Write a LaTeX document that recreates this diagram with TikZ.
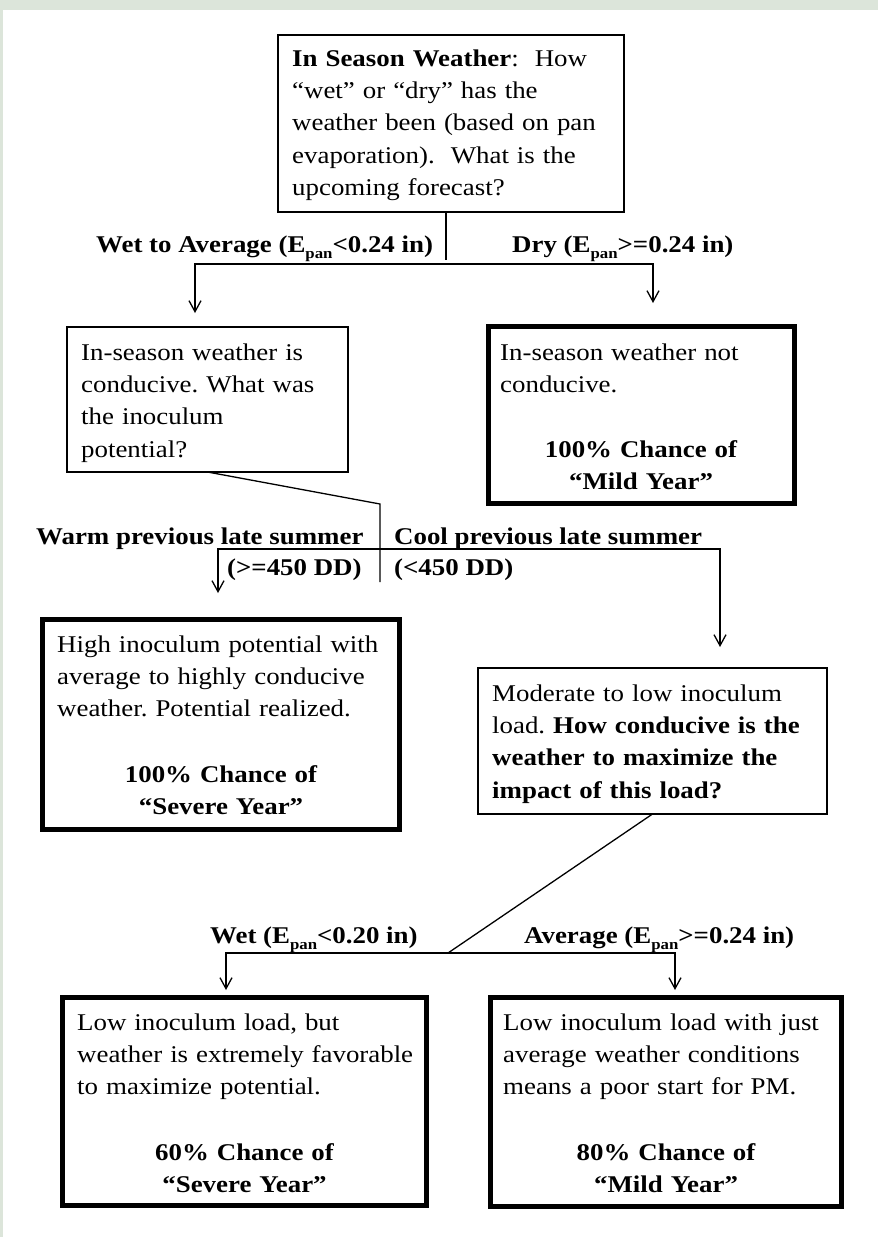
\documentclass[tikz,border=0pt]{standalone}
\usepackage{fontspec}
\setmainfont{Liberation Serif}[FakeStretch=1.12]
\usetikzlibrary{arrows.meta,fit}
\definecolor{bandcol}{HTML}{DCE5DA}
\newcommand{\pan}{\raisebox{-6pt}{\fontsize{15}{15}\selectfont pan}}
\frenchspacing
\begin{document}
\begin{tikzpicture}[x=1pt,y=-1pt,
  thinbox/.style={draw,line width=1.3pt,inner sep=0pt,outer sep=0pt},
  thickbox/.style={draw,line width=5pt,inner sep=0pt,outer sep=0pt},
  txt/.style={anchor=base west,inner sep=0pt,text width=420pt,align=left,font=\fontsize{24}{32.4}\selectfont\frenchspacing},
  ctxt/.style={anchor=base,inner sep=0pt,text width=340pt,align=center,font=\fontsize{24}{32.4}\selectfont\bfseries},
  lbl/.style={anchor=base west,inner sep=0pt,font=\fontsize{24}{28}\selectfont\bfseries},
  conn/.style={line width=1.3pt},
  arr/.style={line width=1.3pt,-{Straight Barb[length=11pt,width=12pt,line width=1.3pt]}}]
\useasboundingbox (0,0) rectangle (878,1237);
\fill[white] (0,0) rectangle (878,1237);
\fill[bandcol] (0,0) rectangle (878,10);
\fill[bandcol] (0,0) rectangle (3,1237);

% boxes
\node[thinbox,fit={(278,35) (624,212)}] (T) {};
\node[thinbox,fit={(67,327) (348,472)}] (A) {};
\node[thickbox,fit={(488.5,326.5) (794.5,503.5)}] (B) {};
\node[thickbox,fit={(42.5,619.5) (399.5,829.5)}] (C) {};
\node[thinbox,fit={(478,668) (827,814)}] (D) {};
\node[thickbox,fit={(62.5,997.5) (426.5,1205.5)}] (E) {};
\node[thickbox,fit={(490.5,997.5) (841.5,1206.5)}] (F) {};

% box texts
\node[txt] (Tt) at (292,66) {\textbf{In Season Weather}:\ \ How\\“wet” or “dry” has the\\weather been (based on pan\\evaporation).\ \ What is the\\upcoming forecast?};
\node[txt] (At) at (81,360) {In-season weather is\\conducive. What was\\the inoculum\\potential?};
\node[txt] (Bt) at (500,360) {In-season weather not\\conducive.};
\node[ctxt] (Bc) at (641,457) {100\% Chance of\\“Mild Year”};
\node[txt] (Ct) at (57,652) {High inoculum potential with\\average to highly conducive\\weather. Potential realized.};
\node[ctxt] (Cc) at (221,782) {100\% Chance of\\“Severe Year”};
\node[txt] (Dt) at (492,701) {Moderate to low inoculum\\load. \textbf{How conducive is the}\\\textbf{weather to maximize the}\\\textbf{impact of this load?}};
\node[txt] (Et) at (77,1030) {Low inoculum load, but\\weather is extremely favorable\\to maximize potential.};
\node[ctxt] (Ec) at (244.5,1160) {60\% Chance of\\“Severe Year”};
\node[txt] (Ft) at (503,1030) {Low inoculum load with just\\average weather conditions\\means a poor start for PM.};
\node[ctxt] (Fc) at (666,1160) {80\% Chance of\\“Mild Year”};

% branch labels
\node[lbl] (L1) at (96,252) {Wet to Average (E\pan<0.24 in)};
\node[lbl] (L2) at (512,252) {Dry (E\pan>=0.24 in)};
\node[lbl] (L3) at (36,544) {Warm previous late summer};
\node[lbl] (L4) at (394,544) {Cool previous late summer};
\node[lbl] (L5) at (227,575) {(>=450 DD)};
\node[lbl] (L6) at (394,575) {(<450 DD)};
\node[lbl] (L7) at (210,943) {Wet (E\pan<0.20 in)};
\node[lbl] (L8) at (524,943) {Average (E\pan>=0.24 in)};

% junction coordinates
\coordinate (j1) at (446,260);
\coordinate (h1a) at (195,264);
\coordinate (h1b) at (653,264);
\coordinate (k1) at (380,504);
\coordinate (k1e) at (380,582);
\coordinate (h2a) at (218,549);
\coordinate (h2b) at (720,549);
\coordinate (k2) at (448,953);
\coordinate (h3a) at (226,953);
\coordinate (h3b) at (675,953);

% connectors
\draw[conn] (T.south -| j1) -- (j1);
\draw[arr] (h1b) -- (h1a) -- ([yshift=14pt]h1a |- A.north);
\draw[arr] (h1a) -- (h1b) -- ([yshift=23.5pt]h1b |- B.north);
\draw[conn] (A.south) -- (k1) -- (k1e);
\draw[arr] (h2b) -- (h2a) -- ([yshift=26.5pt]h2a |- C.north);
\draw[arr] (h2a) -- (h2b) -- ([yshift=21pt]h2b |- D.north);
\draw[conn] (D.south) -- (k2);
\draw[arr] (h3b) -- (h3a) -- ([yshift=7.5pt]h3a |- E.north);
\draw[arr] (h3a) -- (h3b) -- ([yshift=7.5pt]h3b |- F.north);
\end{tikzpicture}
\end{document}
